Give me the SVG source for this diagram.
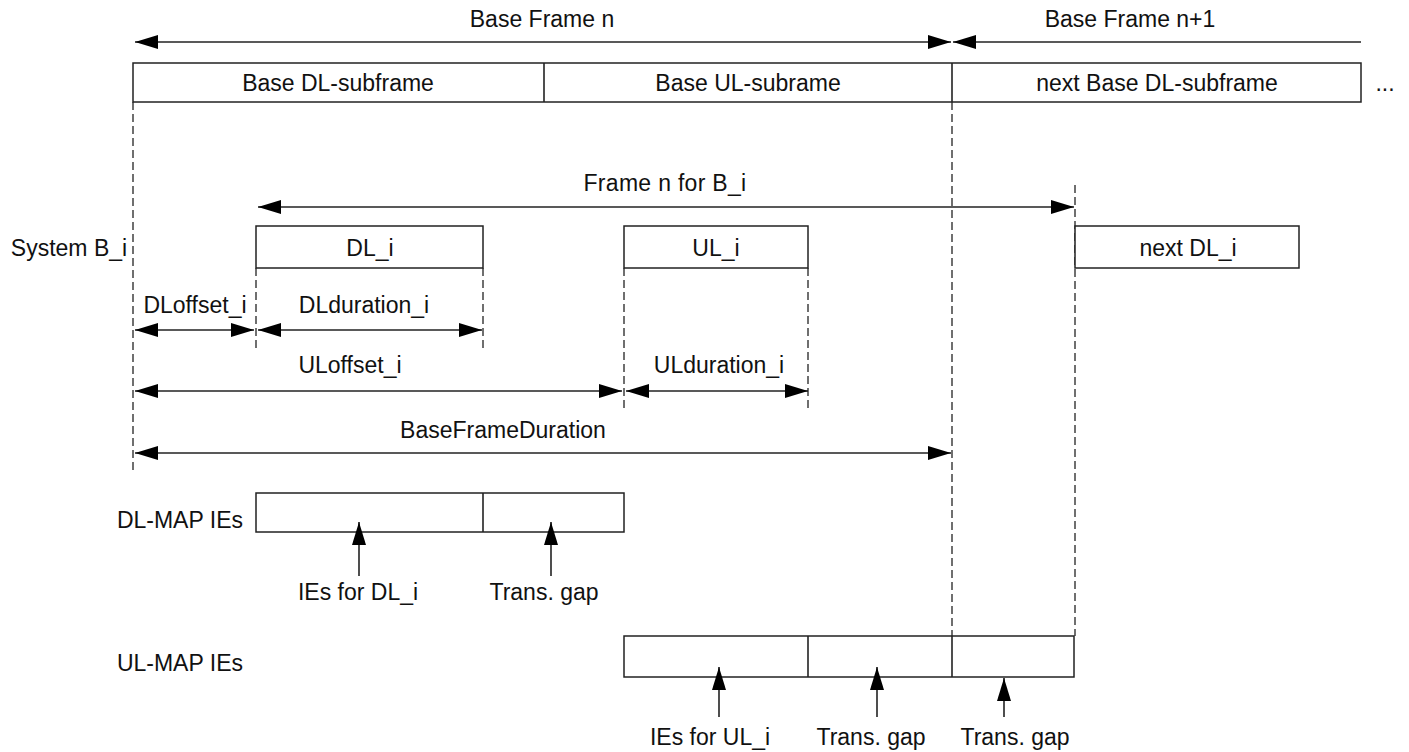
<svg xmlns="http://www.w3.org/2000/svg" width="1409" height="752" viewBox="0 0 1409 752">
<style>
text{font-family:"Liberation Sans",Arial,sans-serif;font-size:23px;fill:#111;text-anchor:middle}
.box{fill:#fff;stroke:#222;stroke-width:1.5}
.ln{stroke:#222;stroke-width:1.6;fill:none}
.dash{stroke:#333;stroke-width:1.4;stroke-dasharray:8,4;fill:none}
.l{text-anchor:end}
</style>
<defs>
<marker id="ah" markerUnits="userSpaceOnUse" markerWidth="24" markerHeight="16" viewBox="0 0 24 16" refX="23" refY="8" orient="auto-start-reverse">
<path d="M0,1 L23,8 L0,15 z" fill="#000"/>
</marker>
</defs>
<g id="guides">
<line class="dash" x1="133" y1="102" x2="133" y2="470"/>
<line class="dash" x1="952" y1="102" x2="952" y2="636"/>
<line class="dash" x1="1075" y1="185" x2="1075" y2="636"/>
<line class="dash" x1="256" y1="268" x2="256" y2="350"/>
<line class="dash" x1="483" y1="268" x2="483" y2="350"/>
<line class="dash" x1="624" y1="268" x2="624" y2="409"/>
<line class="dash" x1="808" y1="268" x2="808" y2="410"/>
</g>
<g id="base-frame">
<rect class="box" x="133" y="63" width="1228" height="39"/>
<line class="ln" x1="544" y1="63" x2="544" y2="102"/>
<line class="ln" x1="952" y1="63" x2="952" y2="102"/>
<text x="338" y="91">Base DL-subframe</text>
<text x="748" y="91">Base UL-subrame</text>
<text x="1157" y="91">next Base DL-subframe</text>
<text x="1385" y="91">...</text>
</g>
<g id="system-label"><text x="69" y="256">System B_i</text></g>
<g id="dl-i"><rect class="box" x="256" y="226" width="227" height="42"/><text x="370" y="256">DL_i</text></g>
<g id="ul-i"><rect class="box" x="624" y="226" width="184" height="42"/><text x="716" y="256">UL_i</text></g>
<g id="next-dl-i"><rect class="box" x="1075" y="226" width="224" height="42"/><text x="1188" y="256">next DL_i</text></g>
<g id="dl-map">
<text class="l" x="243" y="528">DL-MAP IEs</text>
<rect class="box" x="256" y="493" width="368" height="39"/>
<line class="ln" x1="483" y1="493" x2="483" y2="532"/>
</g>
<g id="ul-map">
<text class="l" x="243" y="671">UL-MAP IEs</text>
<rect class="box" x="624" y="636" width="450" height="41"/>
<line class="ln" x1="808" y1="636" x2="808" y2="677"/>
<line class="ln" x1="952" y1="636" x2="952" y2="677"/>
</g>
<g id="connectors">
<line class="ln" x1="135" y1="42" x2="951" y2="42" marker-start="url(#ah)" marker-end="url(#ah)"/>
<line class="ln" x1="953" y1="42" x2="1361" y2="42" marker-start="url(#ah)"/>
<line class="ln" x1="258" y1="207" x2="1074" y2="207" marker-start="url(#ah)" marker-end="url(#ah)"/>
<line class="ln" x1="135" y1="330" x2="254" y2="330" marker-start="url(#ah)" marker-end="url(#ah)"/>
<line class="ln" x1="258" y1="330" x2="482" y2="330" marker-start="url(#ah)" marker-end="url(#ah)"/>
<line class="ln" x1="135" y1="391" x2="622" y2="391" marker-start="url(#ah)" marker-end="url(#ah)"/>
<line class="ln" x1="626" y1="391" x2="808" y2="391" marker-start="url(#ah)" marker-end="url(#ah)"/>
<line class="ln" x1="135" y1="453" x2="951" y2="453" marker-start="url(#ah)" marker-end="url(#ah)"/>
<line class="ln" x1="359" y1="576" x2="359" y2="522" marker-end="url(#ah)"/>
<line class="ln" x1="551" y1="576" x2="551" y2="522" marker-end="url(#ah)"/>
<line class="ln" x1="719" y1="717" x2="719" y2="667" marker-end="url(#ah)"/>
<line class="ln" x1="877" y1="717" x2="877" y2="667" marker-end="url(#ah)"/>
<line class="ln" x1="1004" y1="717" x2="1004" y2="678" marker-end="url(#ah)"/>
</g>
<g id="labels">
<text x="542" y="27">Base Frame n</text>
<text x="1130" y="27">Base Frame n+1</text>
<text x="665" y="191" letter-spacing="0.3">Frame n for B_i</text>
<text x="195" y="313">DLoffset_i</text>
<text x="364" y="313">DLduration_i</text>
<text x="350" y="373">ULoffset_i</text>
<text x="719" y="373">ULduration_i</text>
<text x="503" y="438">BaseFrameDuration</text>
<text x="358" y="600">IEs for DL_i</text>
<text x="544" y="600">Trans. gap</text>
<text x="710" y="745">IEs for UL_i</text>
<text x="871" y="745">Trans. gap</text>
<text x="1015" y="745">Trans. gap</text>
</g>
</svg>
